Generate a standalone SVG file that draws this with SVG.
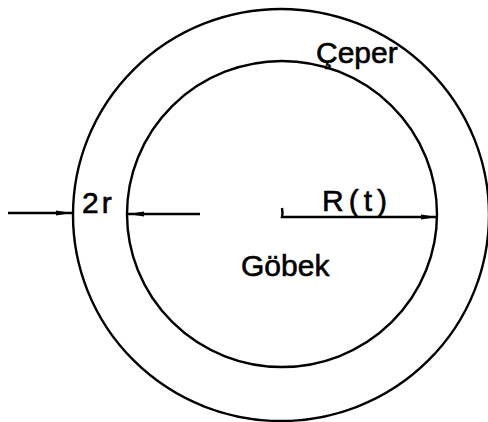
<svg xmlns="http://www.w3.org/2000/svg" width="488" height="422" viewBox="0 0 488 422">
<style>
.c{fill:none;stroke:#000;stroke-width:2.4}
.a{fill:none;stroke:#000;stroke-width:2.4}
.t{font-family:"Liberation Sans",Arial,sans-serif;font-size:30px;fill:#000;stroke:#000;stroke-width:0.6}
</style>
<defs>
<marker id="ah" viewBox="0 0 16 6" refX="16" refY="3" markerWidth="16" markerHeight="6" markerUnits="userSpaceOnUse" orient="auto">
<path d="M0,0.5 L16,3 L0,5.5 Z" fill="#000"/>
</marker>
</defs>
<rect width="488" height="422" fill="#fff"/>
<g id="outer"><ellipse class="c" cx="281" cy="215" rx="208" ry="206"/></g>
<g id="inner"><ellipse class="c" cx="282" cy="214" rx="155" ry="153"/></g>
<g id="connectors">
<line class="a" x1="8" y1="213" x2="72" y2="213" marker-end="url(#ah)"/>
<line class="a" x1="200" y1="214" x2="128" y2="214" marker-end="url(#ah)"/>
<path class="a" d="M282,208 Q283,213 282,217 L437,217" marker-end="url(#ah)"/>
</g>
<g id="labels">
<text class="t" x="82" y="213" letter-spacing="3">2r</text>
<text class="t" x="322" y="211" letter-spacing="5">R(t)</text>
<text class="t" x="316" y="63">Çeper</text>
<text class="t" x="241" y="276">Göbek</text>
</g>
</svg>
